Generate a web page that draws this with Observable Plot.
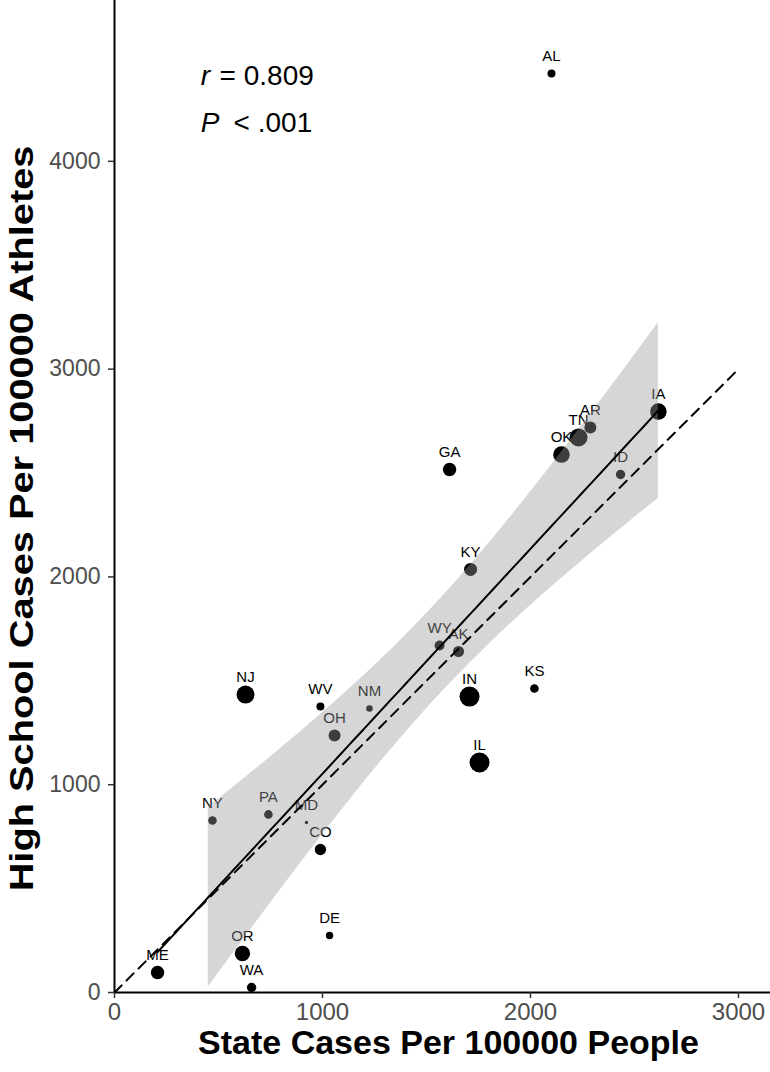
<!DOCTYPE html>
<html>
<head>
<meta charset="utf-8">
<script src="https://cdn.jsdelivr.net/npm/d3@7"></script>
<script src="https://cdn.jsdelivr.net/npm/@observablehq/plot@0.6"></script>
<style>
  html, body { margin: 0; padding: 0; background: #fff; }
  #chart svg { display: block; }
</style>
</head>
<body>
<div id="chart"></div>
<script>
// ---- data ----
const states = ["AL","IA","AR","TN","OK","ID","GA","KY","WY","AK","KS","IN","IL","NJ","WV","NM","OH","NY","PA","MD","CO","DE","OR","ME","WA"];
const stateCases = [2101,2615,2288,2231,2149,2433,1611,1712,1563,1654,2019,1707,1755,630,990,1226,1058,471,740,923,990,1034,615,207,659];
const hsCases =    [4423,2796,2719,2671,2589,2493,2517,2036,1670,1641,1463,1424,1107,1434,1376,1367,1237,828,857,818,688,274,188,96,24];
// point-size variable (relative units); also the lm weights
const sizeVar =    [107,662,298,804,662,161,393,364,188,240,128,1030,1030,804,107,67,298,128,128,30,262,88,553,393,161];
const xTicks = [0, 1000, 2000, 3000];
const yTicks = [0, 1000, 2000, 3000, 4000];
const identityLine = [0, 3000];
const statLines = [["r", " = 0.809"], ["P", " < .001"]];
const xTitle = "State Cases Per 100000 People";
const yTitle = "High School Cases Per 100000 Athletes";

const xMax = 3154, yMax = 4774;

const data = states.map((s, i) => ({state: s, x: stateCases[i], y: hsCases[i], w: sizeVar[i]}));
const wMin = d3.min(sizeVar), wMax = d3.max(sizeVar);

// ---- weighted linear model with 95% confidence band (geom_smooth(method = "lm")) ----
const n = data.length;
const W = d3.sum(data, d => d.w);
const mx = d3.sum(data, d => d.w * d.x) / W, my = d3.sum(data, d => d.w * d.y) / W;
const sxx = d3.sum(data, d => d.w * (d.x - mx) ** 2);
const sxy = d3.sum(data, d => d.w * (d.x - mx) * (d.y - my));
const b = sxy / sxx, a = my - b * mx;
const s2 = d3.sum(data, d => d.w * (d.y - (a + b * d.x)) ** 2) / (n - 2);
const tq = 2.0687; // t(0.975, df = 23)
const [x0, x1] = d3.extent(data, d => d.x);
const fit = d3.range(80).map(i => {
  const x = x0 + (x1 - x0) * i / 79;
  const yhat = a + b * x;
  const se = Math.sqrt(s2 * (1 / W + (x - mx) ** 2 / sxx));
  const lo = yhat - tq * se, hi = yhat + tq * se;
  const ok = lo >= 0 && hi <= yMax;   // out-of-limits rows are dropped, as with scale limits
  return {x, yhat, lo: ok ? lo : NaN, hi: ok ? hi : NaN};
});

const font = "'Liberation Sans', Arial, Helvetica, sans-serif";

const chart = Plot.plot({
  width: 770,
  height: 1072,
  marginLeft: 114,
  marginRight: 0,
  marginTop: 0,
  marginBottom: 80,
  style: {fontFamily: font, background: "#fff", color: "#000"},
  x: {domain: [0, xMax]},
  y: {domain: [0, yMax]},
  r: {type: "sqrt", transform: v => v - wMin, domain: [0, wMax - wMin], range: [1.7, 10]},
  marks: [
    Plot.dot(data, {x: "x", y: "y", r: "w", fill: "#000", stroke: "none"}),
    Plot.text(data, {x: "x", y: "y", text: "state", dy: -17, fill: "#000", fontSize: 15}),
    Plot.areaY(fit, {x: "x", y1: "lo", y2: "hi", fill: "#999999", fillOpacity: 0.4}),
    Plot.line(fit, {x: "x", y: "yhat", stroke: "#000", strokeWidth: 2}),
    Plot.line(identityLine, {x: d => d, y: d => d, stroke: "#000", strokeWidth: 2, strokeDasharray: "10,7"}),
    Plot.ruleX([0], {stroke: "#000", strokeWidth: 2}),
    Plot.ruleY([0], {stroke: "#000", strokeWidth: 2}),
    Plot.axisX({ticks: xTicks, tickFormat: d => String(d), tickSize: 6, tickPadding: 4, fontSize: 24, fill: "#4d4d4d", stroke: "#333", strokeWidth: 1.5, label: null}),
    Plot.axisY({ticks: yTicks, tickFormat: d => String(d), tickSize: 6, tickPadding: 8, fontSize: 23, fill: "#4d4d4d", stroke: "#333", strokeWidth: 1.5, label: null}),
    // r / P annotation
    Plot.text([statLines[0][0]], {x: () => 415, y: () => 4410, text: d => d, fontStyle: "italic", fontSize: 28, textAnchor: "start"}),
    Plot.text([statLines[0][1]], {x: () => 415, y: () => 4410, text: d => d, dx: 11, fontSize: 28, textAnchor: "start"}),
    Plot.text([statLines[1][0]], {x: () => 415, y: () => 4185, text: d => d, fontStyle: "italic", fontSize: 28, textAnchor: "start"}),
    Plot.text([statLines[1][1]], {x: () => 415, y: () => 4185, text: d => d, dx: 25, fontSize: 28, textAnchor: "start"}),
    // axis titles
    Plot.text([xTitle], {frameAnchor: "bottom", text: d => d, dx: 6, dy: 61, fontSize: 34, fontWeight: "bold", textAnchor: "middle"}),
    Plot.text([yTitle], {frameAnchor: "left", text: d => d, rotate: -90, dx: -92, dy: 22, fontSize: 34, fontWeight: "bold", textAnchor: "middle"})
  ]
});
// the reference's y-axis title is drawn elongated along its reading direction
d3.select(chart).selectAll("text").filter(function () { return this.textContent === yTitle; })
  .attr("transform", function () { return (this.getAttribute("transform") || "") + " scale(1.17,1)"; });
document.getElementById("chart").appendChild(chart);
</script>
</body>
</html>
